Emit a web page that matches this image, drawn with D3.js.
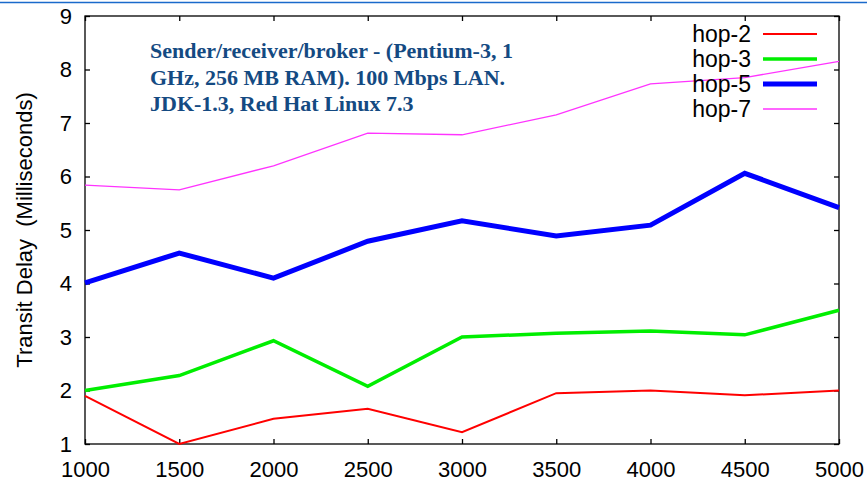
<!DOCTYPE html>
<html>
<head>
<meta charset="utf-8">
<script src="https://cdn.jsdelivr.net/npm/d3@7"></script>
<style>
  body { margin: 0; background: #fff; }
  svg { display: block; font-family: 'Liberation Sans', Arial, sans-serif; }
  .axis text { font-size: 22px; fill: #000; }
  .axis path, .axis line { stroke: #000; stroke-width: 1.3; }
  .line { fill: none; stroke-linejoin: miter; }
</style>
</head>
<body>
<div id="chart"></div>
<script>
const sizes = [1000, 1500, 2000, 2500, 3000, 3500, 4000, 4500, 5000]
const hop2 = [1.9, 1.0, 1.47, 1.66, 1.22, 1.95, 2.0, 1.91, 2.0]
const hop3 = [2.0, 2.28, 2.93, 2.08, 3.0, 3.07, 3.11, 3.04, 3.5]
const hop5 = [4.01, 4.57, 4.1, 4.79, 5.17, 4.89, 5.09, 6.06, 5.42]
const hop7 = [5.84, 5.75, 6.2, 6.81, 6.78, 7.15, 7.73, 7.85, 8.15]
const seriesNames = ['hop-2', 'hop-3', 'hop-5', 'hop-7']
const yTicks = [1, 2, 3, 4, 5, 6, 7, 8, 9]
const note = [
  'Sender/receiver/broker - (Pentium-3, 1',
  'GHz, 256 MB RAM). 100 Mbps LAN.',
  'JDK-1.3, Red Hat Linux 7.3'
]

const W = 867, H = 484
const margin = { top: 16, right: 28, bottom: 40, left: 85 }
const width = W - margin.left - margin.right
const height = H - margin.top - margin.bottom

const styles = [
  { color: '#ff0000', w: 2 },
  { color: '#00ee00', w: 3.5 },
  { color: '#0000ff', w: 5 },
  { color: '#ff33ff', w: 1.3 }
]
const series = [hop2, hop3, hop5, hop7].map((vals, i) => ({
  name: seriesNames[i], vals, ...styles[i]
}))

const svg = d3.select('#chart').append('svg')
  .attr('width', W).attr('height', H)

// top rule
svg.append('line')
  .attr('x1', 0).attr('x2', W).attr('y1', 2.5).attr('y2', 2.5)
  .attr('stroke', '#1a6acb').attr('stroke-width', 1.5)

const chart = svg.append('g')
  .attr('transform', `translate(${margin.left}, ${margin.top})`)

const x = d3.scaleLinear().domain([1000, 5000]).range([0, width])
const y = d3.scaleLinear().domain([1, 9]).range([height, 0])

// frame with inward ticks on all sides
chart.append('rect')
  .attr('width', width).attr('height', height)
  .attr('fill', 'none').attr('stroke', '#000').attr('stroke-width', 1.3)

chart.append('g')
  .classed('axis', true)
  .attr('transform', `translate(0, ${height})`)
  .call(d3.axisBottom(x).tickValues(sizes).tickFormat(d3.format('d')).tickSizeInner(-5).tickSizeOuter(0).tickPadding(17))
  .call(g => g.select('.domain').remove())
chart.append('g')
  .classed('axis', true)
  .call(d3.axisTop(x).tickValues(sizes).tickFormat('').tickSizeInner(-5).tickSizeOuter(0))
  .call(g => g.select('.domain').remove())
chart.append('g')
  .classed('axis', true)
  .call(d3.axisLeft(y).tickValues(yTicks).tickSizeInner(-5).tickSizeOuter(0).tickPadding(13))
  .call(g => g.select('.domain').remove())
chart.append('g')
  .classed('axis', true)
  .attr('transform', `translate(${width}, 0)`)
  .call(d3.axisRight(y).tickValues(yTicks).tickFormat('').tickSizeInner(-5).tickSizeOuter(0))
  .call(g => g.select('.domain').remove())

chart.selectAll('.axis .tick text').attr('fill', '#000')

// y label
svg.append('text')
  .attr('transform', `translate(32, ${margin.top + height / 2}) rotate(-90)`)
  .attr('text-anchor', 'middle')
  .attr('xml:space', 'preserve')
  .style('font-size', '22px')
  .text('Transit Delay  (Milliseconds)')

// lines
const line = d3.line()
  .x((d, i) => x(sizes[i]))
  .y(d => y(d))
chart.selectAll('path.line').data(series)
  .enter().append('path')
    .classed('line', true)
    .attr('stroke', d => d.color)
    .attr('stroke-width', d => d.w)
    .attr('d', d => line(d.vals))

// note
svg.append('text')
  .attr('x', 150).attr('y', 58)
  .style('font-family', "'Liberation Serif', 'Times New Roman', serif")
  .style('font-weight', 'bold')
  .style('font-size', '22px')
  .attr('fill', '#144a82')
  .selectAll('tspan').data(note)
  .enter().append('tspan')
    .attr('x', 150)
    .attr('dy', (d, i) => i === 0 ? 0 : 26.5)
    .text(d => d)

// legend
const legend = svg.append('g')
  .selectAll('g').data(series)
  .enter().append('g')
    .attr('transform', (d, i) => `translate(0, ${34 + i * 25})`)
legend.append('text')
  .attr('x', 751).attr('dy', '0.35em')
  .attr('text-anchor', 'end')
  .style('font-size', '23px')
  .text(d => d.name)
legend.append('line')
  .attr('x1', 763).attr('x2', 817)
  .attr('stroke', d => d.color)
  .attr('stroke-width', d => d.w)
</script>
</body>
</html>
